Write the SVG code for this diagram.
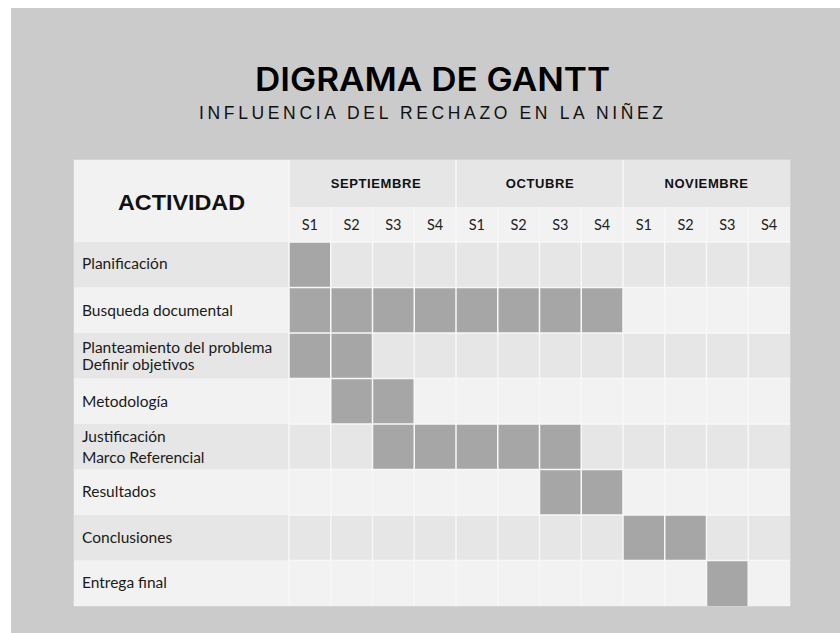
<svg xmlns="http://www.w3.org/2000/svg" width="840" height="633" viewBox="0 0 840 633">
  <style>
    .title { font-family: Inter, "Liberation Sans", Arial, sans-serif; font-weight: 600; fill: #000; }
    .sub { font-family: "Liberation Sans", Arial, sans-serif; fill: #111; }
    .hdr { font-family: "Liberation Sans", Arial, sans-serif; font-weight: bold; fill: #111; }
    .wk { font-family: Lato, "Liberation Sans", sans-serif; font-size: 14.5px; fill: #222; text-anchor: middle; }
    .lbl { font-family: Lato, "Liberation Sans", sans-serif; font-size: 15.5px; fill: #1a1a1a; }
    .dark { fill: #e6e6e6; }
    .light { fill: #f2f2f2; }
    .fill { fill: #a6a6a6; }
    .grid line { stroke: #f7f7f7; stroke-width: 1.5; }
  </style>
  <rect x="0" y="0" width="840" height="633" fill="#ffffff"/>
  <rect x="11" y="8" width="829" height="625" fill="#cbcbcb"/>

  <g id="title">
    <text class="title" x="432.5" y="91" font-size="32" text-anchor="middle" textLength="355" lengthAdjust="spacingAndGlyphs">DIGRAMA DE GANTT</text>
    <text class="sub" x="431" y="119" font-size="17.5" text-anchor="middle" textLength="464" lengthAdjust="spacing">INFLUENCIA DEL RECHAZO EN LA NIÑEZ</text>
  </g>

  <g id="table-bg">
    <rect x="74" y="160" width="716" height="446" fill="#f2f2f2" stroke="#dedede" stroke-width="1"/>
  </g>

  <g id="header">
    <rect class="light" x="74" y="160" width="215" height="82"/>
    <text class="hdr" x="181.5" y="209.5" font-size="22" text-anchor="middle" textLength="127" lengthAdjust="spacingAndGlyphs">ACTIVIDAD</text>
    <rect class="dark" x="289" y="160" width="501" height="47"/>
    <rect class="light" x="289" y="207" width="501" height="35"/>
    <text class="hdr" x="376" y="188" font-size="13" text-anchor="middle" letter-spacing="0.6">SEPTIEMBRE</text>
    <text class="hdr" x="540" y="188" font-size="13" text-anchor="middle" letter-spacing="0.6">OCTUBRE</text>
    <text class="hdr" x="706.5" y="188" font-size="13" text-anchor="middle" letter-spacing="0.6">NOVIEMBRE</text>
    <text class="wk" x="309.9" y="229.5">S1</text>
    <text class="wk" x="351.6" y="229.5">S2</text>
    <text class="wk" x="393.4" y="229.5">S3</text>
    <text class="wk" x="435.1" y="229.5">S4</text>
    <text class="wk" x="476.9" y="229.5">S1</text>
    <text class="wk" x="518.6" y="229.5">S2</text>
    <text class="wk" x="560.4" y="229.5">S3</text>
    <text class="wk" x="602.1" y="229.5">S4</text>
    <text class="wk" x="643.9" y="229.5">S1</text>
    <text class="wk" x="685.6" y="229.5">S2</text>
    <text class="wk" x="727.4" y="229.5">S3</text>
    <text class="wk" x="769.1" y="229.5">S4</text>
  </g>

  <g id="row-planificacion">
    <rect class="dark" x="74" y="242" width="716" height="45.5"/>
    <rect class="fill" x="289" y="242" width="41.75" height="45.5"/>
    <text class="lbl" x="82" y="269">Planificación</text>
  </g>
  <g id="row-busqueda">
    <rect class="light" x="74" y="287.5" width="716" height="45.5"/>
    <rect class="fill" x="289" y="287.5" width="334" height="45.5"/>
    <text class="lbl" x="82" y="315.5">Busqueda documental</text>
  </g>
  <g id="row-planteamiento">
    <rect class="dark" x="74" y="333" width="716" height="45.5"/>
    <rect class="fill" x="289" y="333" width="83.5" height="45.5"/>
    <text class="lbl" x="82" y="353.3">Planteamiento del problema</text>
    <text class="lbl" x="82" y="369.8">Definir objetivos</text>
  </g>
  <g id="row-metodologia">
    <rect class="light" x="74" y="378.5" width="716" height="45.5"/>
    <rect class="fill" x="330.75" y="378.5" width="83.5" height="45.5"/>
    <text class="lbl" x="82" y="406.7">Metodología</text>
  </g>
  <g id="row-justificacion">
    <rect class="dark" x="74" y="424" width="716" height="45.5"/>
    <rect class="fill" x="372.5" y="424" width="208.75" height="45.5"/>
    <text class="lbl" x="82" y="441.7">Justificación</text>
    <text class="lbl" x="82" y="463.3">Marco Referencial</text>
  </g>
  <g id="row-resultados">
    <rect class="light" x="74" y="469.5" width="716" height="45.5"/>
    <rect class="fill" x="539.5" y="469.5" width="83.5" height="45.5"/>
    <text class="lbl" x="82" y="496.7">Resultados</text>
  </g>
  <g id="row-conclusiones">
    <rect class="dark" x="74" y="515" width="716" height="45.5"/>
    <rect class="fill" x="623" y="515" width="83.5" height="45.5"/>
    <text class="lbl" x="82" y="543.3">Conclusiones</text>
  </g>
  <g id="row-entrega">
    <rect class="light" x="74" y="560.5" width="716" height="45.5"/>
    <rect class="fill" x="706.5" y="560.5" width="41.75" height="45.5"/>
    <text class="lbl" x="82" y="588.3">Entrega final</text>
  </g>

  <g id="grid" class="grid">
    <line x1="289" y1="160" x2="289" y2="606"/>
    <line x1="456" y1="160" x2="456" y2="606"/>
    <line x1="623" y1="160" x2="623" y2="606"/>
    <line x1="330.75" y1="207" x2="330.75" y2="606"/>
    <line x1="372.5" y1="207" x2="372.5" y2="606"/>
    <line x1="414.25" y1="207" x2="414.25" y2="606"/>
    <line x1="497.75" y1="207" x2="497.75" y2="606"/>
    <line x1="539.5" y1="207" x2="539.5" y2="606"/>
    <line x1="581.25" y1="207" x2="581.25" y2="606"/>
    <line x1="664.75" y1="207" x2="664.75" y2="606"/>
    <line x1="706.5" y1="207" x2="706.5" y2="606"/>
    <line x1="748.25" y1="207" x2="748.25" y2="606"/>
    <line x1="289" y1="242" x2="790" y2="242"/>
    <line x1="289" y1="287.5" x2="790" y2="287.5"/>
    <line x1="289" y1="333" x2="790" y2="333"/>
    <line x1="289" y1="378.5" x2="790" y2="378.5"/>
    <line x1="289" y1="424" x2="790" y2="424"/>
    <line x1="289" y1="469.5" x2="790" y2="469.5"/>
    <line x1="289" y1="515" x2="790" y2="515"/>
    <line x1="289" y1="560.5" x2="790" y2="560.5"/>
  </g>
</svg>
